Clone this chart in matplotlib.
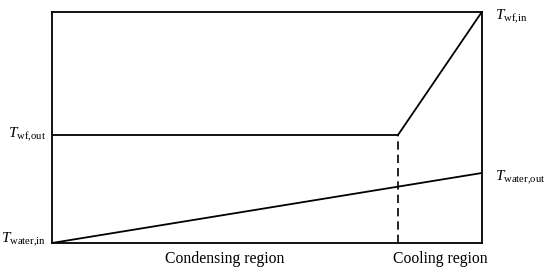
import matplotlib
matplotlib.use("Agg")
import matplotlib.pyplot as plt

# Temperature profiles (normalised), x = heat-transfer position
wf_x = [0.0, 0.805, 1.0]
wf_y = [0.4675, 0.4675, 1.0]
water_x = [0.0, 1.0]
water_y = [0.0, 0.303]
split_x = 0.805

region_labels = ["Condensing region", "Cooling region"]

plt.rcParams["font.family"] = "Liberation Serif"
plt.rcParams["mathtext.fontset"] = "custom"
plt.rcParams["mathtext.rm"] = "Liberation Serif"
plt.rcParams["mathtext.it"] = "Liberation Serif:italic"

fig = plt.figure(figsize=(5.5, 2.7), dpi=100)
ax = fig.add_axes([0.0945, 0.1, 0.7815, 0.8556])

ax.plot(wf_x, wf_y, color="black", lw=1.3)
ax.plot(water_x, water_y, color="black", lw=1.3)
ax.plot([split_x, split_x], [0, wf_y[1]], color="black", lw=1.2,
        dashes=(5, 3))

ax.set_xlim(0, 1)
ax.set_ylim(0, 1)
for s in ax.spines.values():
    s.set_linewidth(1.3)

ax.set_yticks([])
ax.set_xticks([split_x / 2, (split_x + 1) / 2])
ax.set_xticklabels(region_labels, fontsize=11.3)
ax.tick_params(axis="x", length=0, pad=5.5)

fs = 11
def label(x, y, s, ha, dx, dy):
    ax.annotate(s, (x, y), xytext=(dx, dy), textcoords="offset pixels",
                ha=ha, va="baseline", fontsize=fs, annotation_clip=False)

label(0, wf_y[1], r"$T_{\rm wf{,}out}$", "right", -6, -3)
label(0, 0, r"$T_{\rm water{,}in}$", "right", -6, 0)
label(1, 1, r"$T_{\rm wf{,}in}$", "left", 13, -8)
label(1, water_y[1], r"$T_{\rm water{,}out}$", "left", 13, -8)

fig.savefig("out.png", dpi=100)
